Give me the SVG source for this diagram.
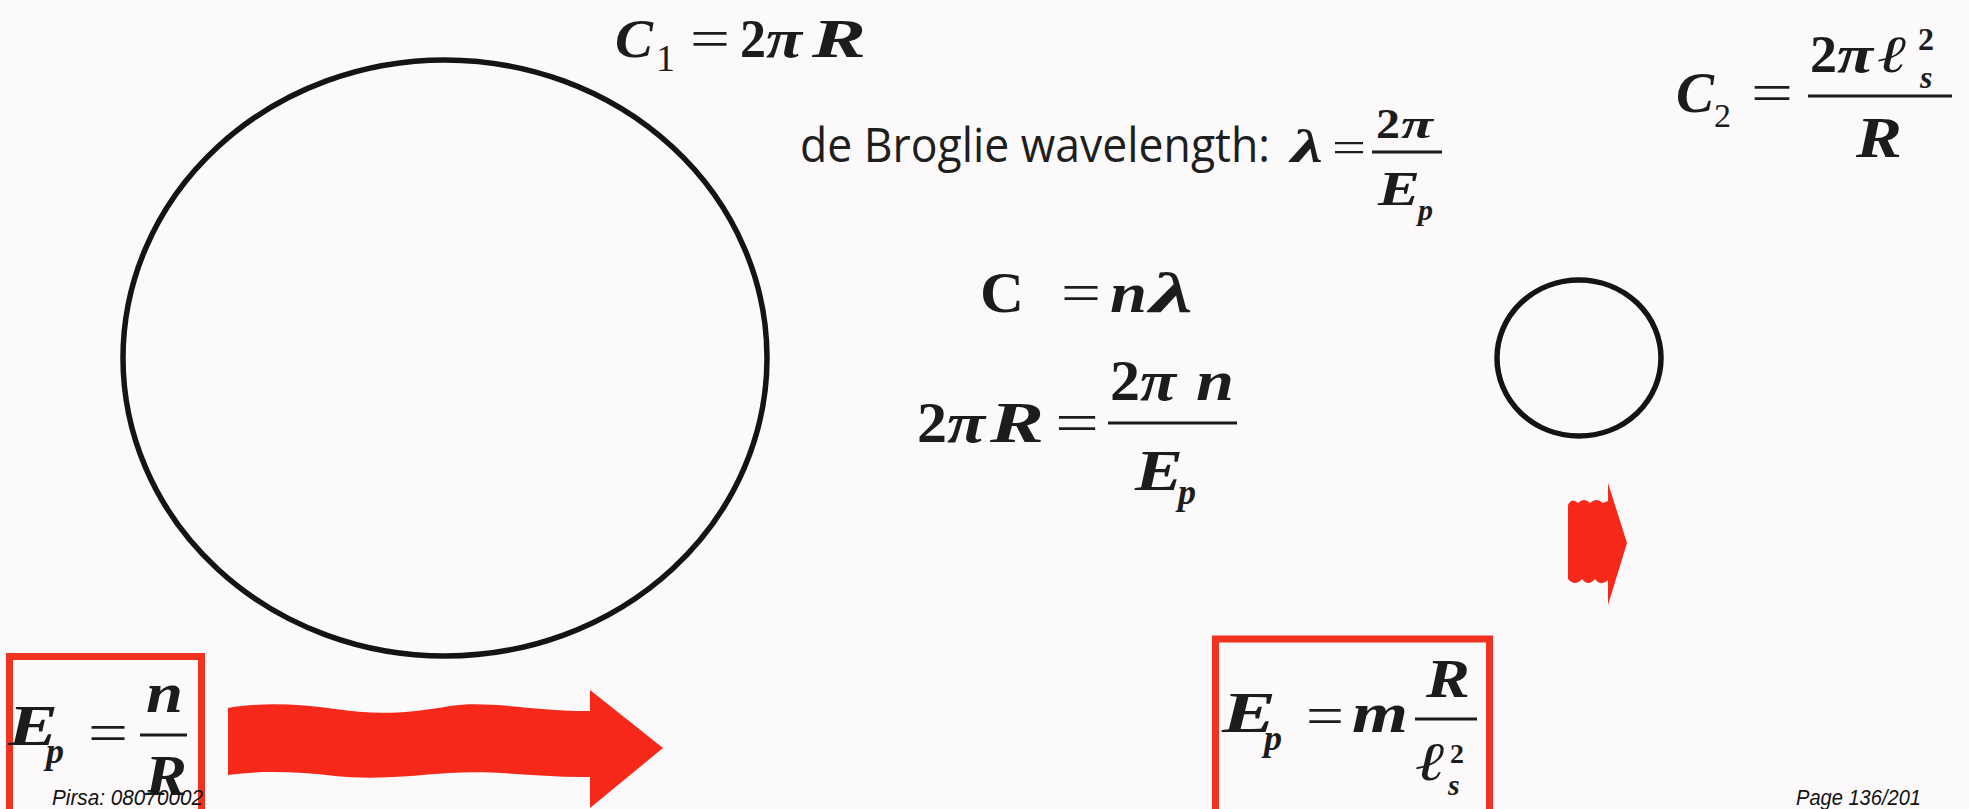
<svg xmlns="http://www.w3.org/2000/svg" width="1969" height="809" viewBox="0 0 1969 809">
<style>
.mi{font-family:"Liberation Serif","Times New Roman",serif;font-style:italic;font-weight:bold;fill:#1c1c1c}
.bu{font-family:"Liberation Serif","Times New Roman",serif;font-weight:bold;fill:#1c1c1c}
.ru{font-family:"Liberation Serif","Times New Roman",serif;fill:#1c1c1c}
.op{font-family:"Liberation Serif","Times New Roman",serif;fill:#1c1c1c}
.sans{font-family:"Open Sans","Noto Sans",sans-serif;fill:#1e1e1e}
.foot{font-family:"Liberation Sans",Arial,sans-serif;font-style:italic;font-size:22px;fill:#111}
.bar{stroke:#1c1c1c;stroke-width:3}
.ring{fill:none;stroke:#141414;stroke-width:5.5}
.box{fill:none;stroke:#f0321f;stroke-width:7}
.arrow{fill:#f5281a}
</style>
<rect x="0" y="0" width="1969" height="809" fill="#fcf9fb"/>

<g id="big-circle"><ellipse class="ring" cx="445" cy="358" rx="322" ry="298"/></g>
<g id="small-circle"><ellipse class="ring" cx="1579" cy="358" rx="82" ry="78"/></g>

<g id="eq-c1">
<text class="mi" x="615" y="57" font-size="54" textLength="38" lengthAdjust="spacingAndGlyphs">C</text>
<text class="ru" x="656" y="71" font-size="38">1</text>
<text class="op" x="690" y="57" font-size="54" textLength="40" lengthAdjust="spacingAndGlyphs">=</text>
<text class="bu" x="740" y="57" font-size="54" textLength="26" lengthAdjust="spacingAndGlyphs">2</text>
<text class="mi" x="766" y="57" font-size="54" textLength="36" lengthAdjust="spacingAndGlyphs">π</text>
<text class="mi" x="812" y="57" font-size="54" textLength="54" lengthAdjust="spacingAndGlyphs">R</text>
</g>

<g id="eq-debroglie">
<text class="sans" x="800" y="162" font-size="47" textLength="470" lengthAdjust="spacingAndGlyphs">de Broglie wavelength:</text>
<text class="mi" x="1291" y="162" font-size="46" textLength="32" lengthAdjust="spacingAndGlyphs">λ</text>
<text class="op" x="1332" y="162" font-size="44" textLength="34" lengthAdjust="spacingAndGlyphs">=</text>
<line class="bar" x1="1372" y1="152" x2="1442" y2="152"/>
<text class="bu" x="1376" y="138" font-size="42" textLength="24" lengthAdjust="spacingAndGlyphs">2</text>
<text class="mi" x="1401" y="138" font-size="42" textLength="32" lengthAdjust="spacingAndGlyphs">π</text>
<text class="mi" x="1378" y="205" font-size="48" textLength="42" lengthAdjust="spacingAndGlyphs">E</text>
<text class="mi" x="1418" y="220" font-size="30">p</text>
</g>

<g id="eq-c2">
<text class="mi" x="1676" y="112" font-size="58" textLength="38" lengthAdjust="spacingAndGlyphs">C</text>
<text class="ru" x="1714" y="127" font-size="34">2</text>
<text class="op" x="1751" y="112" font-size="56" textLength="42" lengthAdjust="spacingAndGlyphs">=</text>
<line class="bar" x1="1808" y1="96" x2="1952" y2="96"/>
<text class="bu" x="1810" y="72" font-size="52" textLength="27" lengthAdjust="spacingAndGlyphs">2</text>
<text class="mi" x="1837" y="72" font-size="52" textLength="36" lengthAdjust="spacingAndGlyphs">π</text>
<text class="mi" x="1878" y="72" font-size="52" textLength="30" lengthAdjust="spacingAndGlyphs">ℓ</text>
<text class="bu" x="1918" y="50" font-size="32">2</text>
<text class="mi" x="1920" y="88" font-size="32">s</text>
<text class="mi" x="1856" y="157" font-size="56" textLength="46" lengthAdjust="spacingAndGlyphs">R</text>
</g>

<g id="eq-c-nlambda">
<text class="bu" x="980" y="312" font-size="56" textLength="44" lengthAdjust="spacingAndGlyphs">C</text>
<text class="op" x="1061" y="312" font-size="56" textLength="40" lengthAdjust="spacingAndGlyphs">=</text>
<text class="mi" x="1110" y="312" font-size="56" textLength="37" lengthAdjust="spacingAndGlyphs">n</text>
<text class="mi" x="1150" y="312" font-size="56" textLength="43" lengthAdjust="spacingAndGlyphs">λ</text>
</g>

<g id="eq-2piR">
<text class="bu" x="917" y="442" font-size="56" textLength="30" lengthAdjust="spacingAndGlyphs">2</text>
<text class="mi" x="947" y="442" font-size="56" textLength="38" lengthAdjust="spacingAndGlyphs">π</text>
<text class="mi" x="990" y="442" font-size="56" textLength="54" lengthAdjust="spacingAndGlyphs">R</text>
<text class="op" x="1055" y="442" font-size="56" textLength="44" lengthAdjust="spacingAndGlyphs">=</text>
<line class="bar" x1="1108" y1="423" x2="1237" y2="423"/>
<text class="bu" x="1110" y="400" font-size="56" textLength="30" lengthAdjust="spacingAndGlyphs">2</text>
<text class="mi" x="1140" y="400" font-size="56" textLength="36" lengthAdjust="spacingAndGlyphs">π</text>
<text class="mi" x="1196" y="400" font-size="56" textLength="38" lengthAdjust="spacingAndGlyphs">n</text>
<text class="mi" x="1135" y="490" font-size="56" textLength="48" lengthAdjust="spacingAndGlyphs">E</text>
<text class="mi" x="1178" y="504" font-size="36">p</text>
</g>

<g id="box-left">
<rect class="box" x="9.5" y="656.5" width="192" height="160"/>
<text class="mi" x="8" y="745" font-size="56" textLength="50" lengthAdjust="spacingAndGlyphs">E</text>
<text class="mi" x="46" y="763" font-size="36">p</text>
<text class="op" x="88" y="752" font-size="56" textLength="40" lengthAdjust="spacingAndGlyphs">=</text>
<line class="bar" x1="140" y1="735" x2="187" y2="735"/>
<text class="mi" x="146" y="712" font-size="56" textLength="37" lengthAdjust="spacingAndGlyphs">n</text>
<text class="mi" x="145" y="795" font-size="56" textLength="42" lengthAdjust="spacingAndGlyphs">R</text>
</g>

<g id="box-right">
<rect class="box" x="1215.5" y="639" width="274" height="176" stroke-width="8"/>
<text class="mi" x="1222" y="732" font-size="56" textLength="54" lengthAdjust="spacingAndGlyphs">E</text>
<text class="mi" x="1264" y="750" font-size="36">p</text>
<text class="op" x="1306" y="735" font-size="56" textLength="38" lengthAdjust="spacingAndGlyphs">=</text>
<text class="mi" x="1352" y="732" font-size="56" textLength="56" lengthAdjust="spacingAndGlyphs">m</text>
<line class="bar" x1="1415" y1="719" x2="1477" y2="719"/>
<text class="mi" x="1426" y="697" font-size="54" textLength="44" lengthAdjust="spacingAndGlyphs">R</text>
<text class="mi" x="1416" y="780" font-size="54" textLength="30" lengthAdjust="spacingAndGlyphs">ℓ</text>
<text class="bu" x="1450" y="763" font-size="28">2</text>
<text class="mi" x="1448" y="795" font-size="30">s</text>
</g>

<g id="connectors">
<path id="arrow-big" class="arrow" d="M228,708 C260,702 300,704 335,709 C370,714 400,715 450,706 C490,700 540,712 590,711 L590,690 L663,748 L590,808 L590,777 C545,778 500,770 450,773 C405,776 375,780 335,776 C300,772 262,770 228,775 Z"/>
<path id="arrow-small" class="arrow" d="M1568,505 Q1572,497 1578,503 Q1584,497 1590,503 Q1596,497 1603,503 L1608,501 L1608,483 L1627,543 L1608,605 L1608,580 Q1601,587 1595,579 Q1588,587 1582,579 Q1575,587 1568,579 Z"/>
</g>

<g id="footer">
<text class="foot" x="52" y="805" textLength="151" lengthAdjust="spacingAndGlyphs">Pirsa: 08070002</text>
<text class="foot" x="1796" y="805" textLength="125" lengthAdjust="spacingAndGlyphs">Page 136/201</text>
</g>
</svg>
